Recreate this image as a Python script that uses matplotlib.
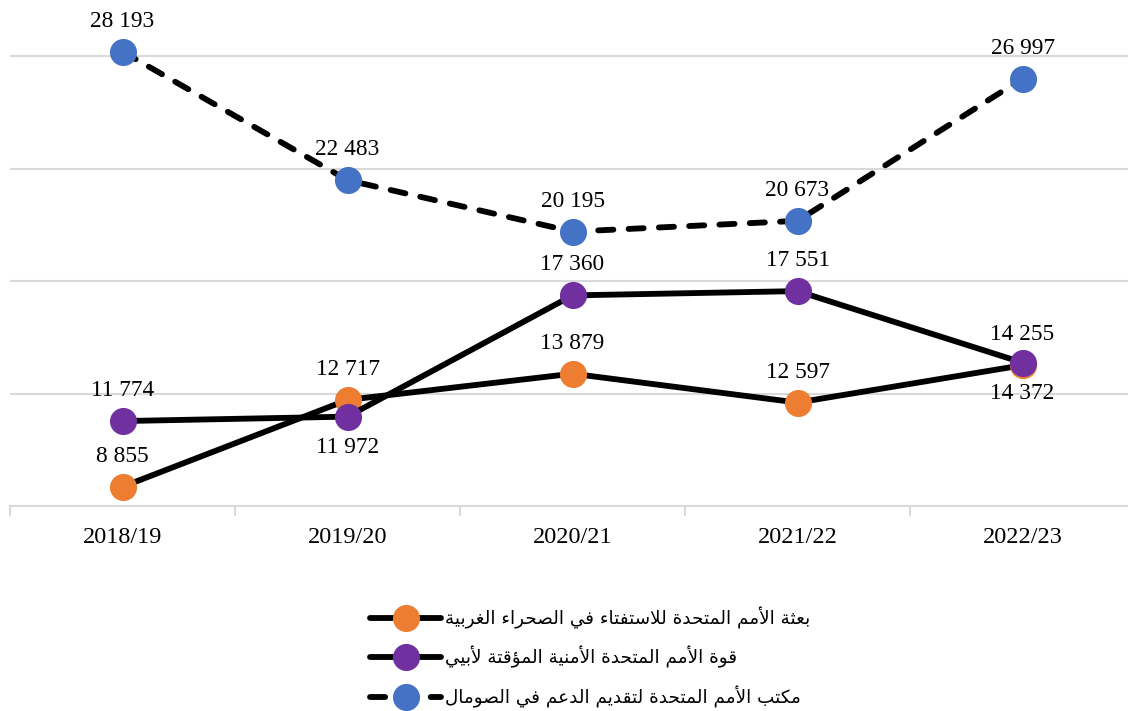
import matplotlib
matplotlib.use("Agg")
import matplotlib.pyplot as plt

# data
years = ["2018/19", "2019/20", "2020/21", "2021/22", "2022/23"]
sahara = [8855, 12717, 13879, 12597, 14255]
abyei = [11774, 11972, 17360, 17551, 14372]
somalia = [28193, 22483, 20195, 20673, 26997]

name_sahara = "بعثة الأمم المتحدة للاستفتاء في الصحراء الغربية"
name_abyei = "قوة الأمم المتحدة الأمنية المؤقتة لأبيي"
name_somalia = "مكتب الأمم المتحدة لتقديم الدعم في الصومال"

# where the value labels sit (1 = above the point, -1 = below)
pos_sahara = [1, 1, 1, 1, 1]
pos_abyei = [1, -1, 1, 1, -1]
pos_somalia = [1, 1, 1, 1, 1]


# matplotlib does not shape arabic, so pick presentation forms by hand
FORMS = {
    "ء": ("\ufe80", None, None, None),
    "آ": ("\ufe81", "\ufe82", None, None),
    "أ": ("\ufe83", "\ufe84", None, None),
    "ؤ": ("\ufe85", "\ufe86", None, None),
    "إ": ("\ufe87", "\ufe88", None, None),
    "ئ": ("\ufe89", "\ufe8a", "\ufe8b", "\ufe8c"),
    "ا": ("\ufe8d", "\ufe8e", None, None),
    "ب": ("\ufe8f", "\ufe90", "\ufe91", "\ufe92"),
    "ة": ("\ufe93", "\ufe94", None, None),
    "ت": ("\ufe95", "\ufe96", "\ufe97", "\ufe98"),
    "ث": ("\ufe99", "\ufe9a", "\ufe9b", "\ufe9c"),
    "ج": ("\ufe9d", "\ufe9e", "\ufe9f", "\ufea0"),
    "ح": ("\ufea1", "\ufea2", "\ufea3", "\ufea4"),
    "خ": ("\ufea5", "\ufea6", "\ufea7", "\ufea8"),
    "د": ("\ufea9", "\ufeaa", None, None),
    "ذ": ("\ufeab", "\ufeac", None, None),
    "ر": ("\ufead", "\ufeae", None, None),
    "ز": ("\ufeaf", "\ufeb0", None, None),
    "س": ("\ufeb1", "\ufeb2", "\ufeb3", "\ufeb4"),
    "ش": ("\ufeb5", "\ufeb6", "\ufeb7", "\ufeb8"),
    "ص": ("\ufeb9", "\ufeba", "\ufebb", "\ufebc"),
    "ض": ("\ufebd", "\ufebe", "\ufebf", "\ufec0"),
    "ط": ("\ufec1", "\ufec2", "\ufec3", "\ufec4"),
    "ظ": ("\ufec5", "\ufec6", "\ufec7", "\ufec8"),
    "ع": ("\ufec9", "\ufeca", "\ufecb", "\ufecc"),
    "غ": ("\ufecd", "\ufece", "\ufecf", "\ufed0"),
    "ف": ("\ufed1", "\ufed2", "\ufed3", "\ufed4"),
    "ق": ("\ufed5", "\ufed6", "\ufed7", "\ufed8"),
    "ك": ("\ufed9", "\ufeda", "\ufedb", "\ufedc"),
    "ل": ("\ufedd", "\ufede", "\ufedf", "\ufee0"),
    "م": ("\ufee1", "\ufee2", "\ufee3", "\ufee4"),
    "ن": ("\ufee5", "\ufee6", "\ufee7", "\ufee8"),
    "ه": ("\ufee9", "\ufeea", "\ufeeb", "\ufeec"),
    "و": ("\ufeed", "\ufeee", None, None),
    "ى": ("\ufeef", "\ufef0", None, None),
    "ي": ("\ufef1", "\ufef2", "\ufef3", "\ufef4"),
}
LAMALEF = {"آ": ("\ufef5", "\ufef6"), "أ": ("\ufef7", "\ufef8"),
           "إ": ("\ufef9", "\ufefa"), "ا": ("\ufefb", "\ufefc")}


def joins_next(c):
    return c in FORMS and FORMS[c][2] is not None


def joins_prev(c):
    return c in FORMS and FORMS[c][1] is not None


def shape(text):
    res = []
    i = 0
    n = len(text)
    while i < n:
        c = text[i]
        if c not in FORMS:
            res.append(c)
            i += 1
            continue
        prev = text[i - 1] if i > 0 else ""
        conn_prev = joins_next(prev) and joins_prev(c)
        if c == "ل" and i + 1 < n and text[i + 1] in LAMALEF:
            lig = LAMALEF[text[i + 1]]
            res.append(lig[1] if conn_prev else lig[0])
            i += 2
            continue
        nxt = text[i + 1] if i + 1 < n else ""
        conn_next = joins_next(c) and joins_prev(nxt)
        iso, fin, ini, med = FORMS[c]
        if conn_prev and conn_next:
            res.append(med)
        elif conn_prev:
            res.append(fin)
        elif conn_next:
            res.append(ini)
        else:
            res.append(iso)
        i += 1
    return "".join(reversed(res))


def fmt(v):
    return f"{v:,}".replace(",", " ")


plt.rcParams["font.family"] = ["Liberation Serif", "DejaVu Sans"]

fig = plt.figure(figsize=(11.28, 7.11), dpi=100)
ax = fig.add_axes([10 / 1128, 1 - 506 / 711, 1125 / 1128, 495 / 711])

x = list(range(len(years)))
series = [
    (sahara, pos_sahara, name_sahara, "#ED7D31", "-"),
    (abyei, pos_abyei, name_abyei, "#7030A0", "-"),
    (somalia, pos_somalia, name_somalia, "#4472C4", (0, (2.6, 2.6))),
]
for vals, pos, name, col, ls in series:
    ax.plot(x, vals, color="black", lw=4.2, ls=ls, dash_capstyle="round",
            solid_capstyle="round", marker="o", markersize=18.5,
            markerfacecolor=col, markeredgecolor=col, label=shape(name))
    for xi, v, p in zip(x, vals, pos):
        ax.annotate(fmt(v), (xi, v), xytext=(0, 22 * p), textcoords="offset points",
                    ha="center", va="center", fontsize=16.8, color="black")

ax.set_xlim(-0.5, 4.5)
ax.set_ylim(8000, 30000)
ax.set_yticks([8000, 13000, 18000, 23000, 28000])
ax.grid(axis="y", color="#D9D9D9", lw=1.5)
ax.set_axisbelow(True)
ax.tick_params(axis="y", length=0, labelleft=False)

ax.set_xticks(x)
ax.set_xticklabels(years, fontsize=17.5)
ax.set_xticks([-0.5, 0.5, 1.5, 2.5, 3.5, 4.5], minor=True)
ax.tick_params(axis="x", which="major", length=0, pad=15)
ax.tick_params(axis="x", which="minor", length=7, width=1.5, color="#D9D9D9")
for s in ["top", "right", "left"]:
    ax.spines[s].set_visible(False)
ax.spines["bottom"].set_color("#D9D9D9")
ax.spines["bottom"].set_linewidth(1.5)

fig.legend(loc="center", bbox_to_anchor=(590 / 1128, 1 - 657 / 711),
           frameon=False, prop={"family": "DejaVu Sans", "size": 13.2},
           handlelength=3.9, handletextpad=0.2, labelspacing=0.95)

fig.savefig("out.png", dpi=100)
